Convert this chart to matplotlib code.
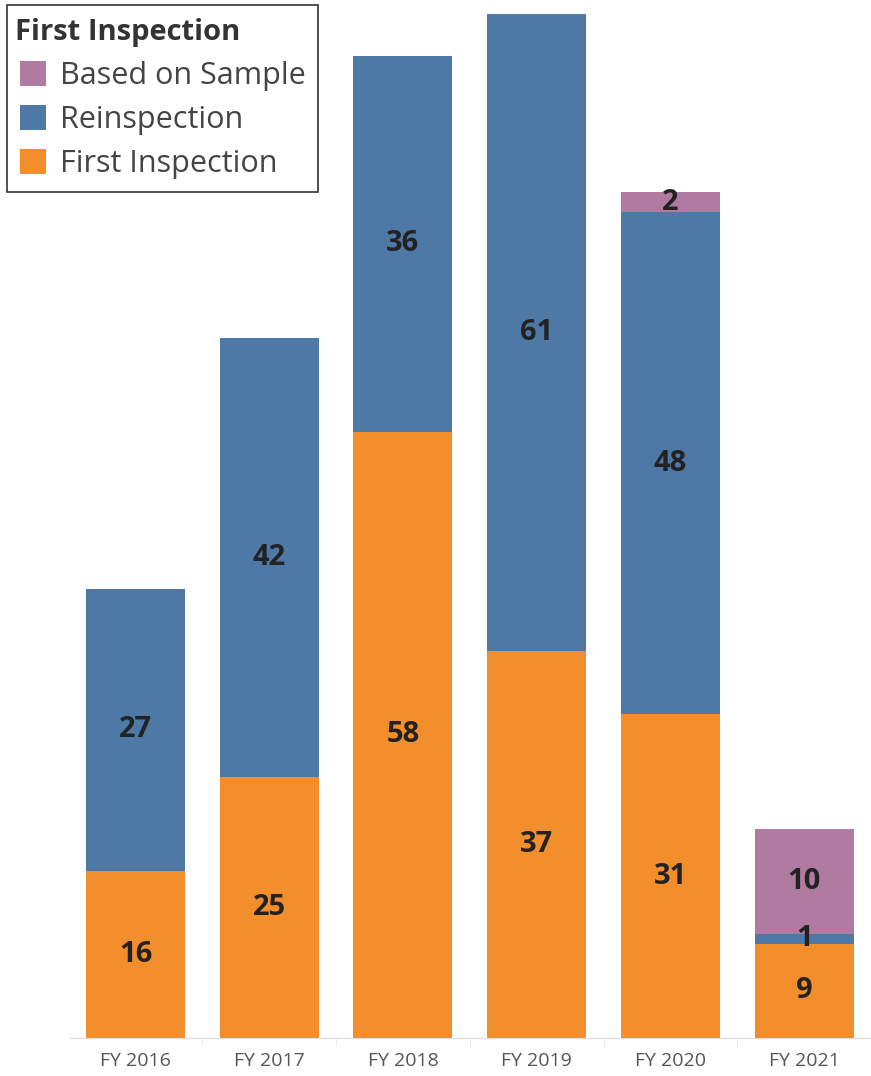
import numpy as np
import matplotlib.pyplot as plt
from matplotlib.patches import Patch

plt.rcParams['font.family'] = ['Open Sans', 'DejaVu Sans']

# data
years = ['FY 2016', 'FY 2017', 'FY 2018', 'FY 2019', 'FY 2020', 'FY 2021']
first = [16, 25, 58, 37, 31, 9]
reinsp = [27, 42, 36, 61, 48, 1]
sample = [0, 0, 0, 0, 2, 10]

c_first = '#F28E2B'
c_re = '#4E79A7'
c_samp = '#B07AA1'

fig = plt.figure(figsize=(8.71, 10.76), dpi=100)
ax = fig.add_axes([68.5/871, 38/1076, 1 - 68.5/871, 1038/1076])

x = np.arange(len(years))
step = 135.0  # px per category
w = 100/step
first = np.array(first)
reinsp = np.array(reinsp)
sample = np.array(sample)

ax.bar(x, first, width=w, color=c_first)
ax.bar(x, reinsp, width=w, bottom=first, color=c_re)
ax.bar(x, sample, width=w, bottom=first + reinsp, color=c_samp)

# segment labels
for i in range(len(years)):
    segs = [(first[i], 0), (reinsp[i], first[i]), (sample[i], first[i] + reinsp[i])]
    for v, b in segs:
        if v > 0:
            ax.text(x[i], b + v/2, str(v), ha='center', va='center',
                    fontsize=21, fontweight='bold', color='#222222')

x0 = -(136 - 68.5)/step
ax.set_xlim(x0, x0 + 802.5/step)
ax.set_ylim(0, 1038/10.45)
ax.set_xticks(x)
ax.set_xticklabels(years, fontsize=14, color='#555555')
ax.set_xticks(np.arange(len(years)) + 0.5, minor=True)
ax.tick_params(axis='x', which='major', length=0, pad=10)
ax.tick_params(axis='x', which='minor', length=6, color='#e6e6e6', direction='out')
ax.set_yticks([])
for s in ['top', 'right', 'left']:
    ax.spines[s].set_visible(False)
ax.spines['bottom'].set_color('#dddddd')

handles = [Patch(facecolor=c_samp), Patch(facecolor=c_re), Patch(facecolor=c_first)]
leg = fig.legend(handles, ['Based on Sample', 'Reinspection', 'First Inspection'],
                 title='First Inspection', loc='upper left',
                 bbox_to_anchor=(7/871, 1 - 5/1076), fontsize=22,
                 title_fontsize=21, alignment='left', frameon=True, fancybox=False,
                 edgecolor='black', handlelength=0.85, handleheight=0.9,
                 handletextpad=0.45, borderpad=0.42, labelspacing=0.45,
                 borderaxespad=0)
leg.get_frame().set_linewidth(1.2)
leg.get_title().set_fontweight('bold')
leg.get_title().set_color('#333333')
leg.get_title().set_x(-5)
for t in leg.get_texts():
    t.set_color('#444444')

fig.savefig('out.png', dpi=100)
